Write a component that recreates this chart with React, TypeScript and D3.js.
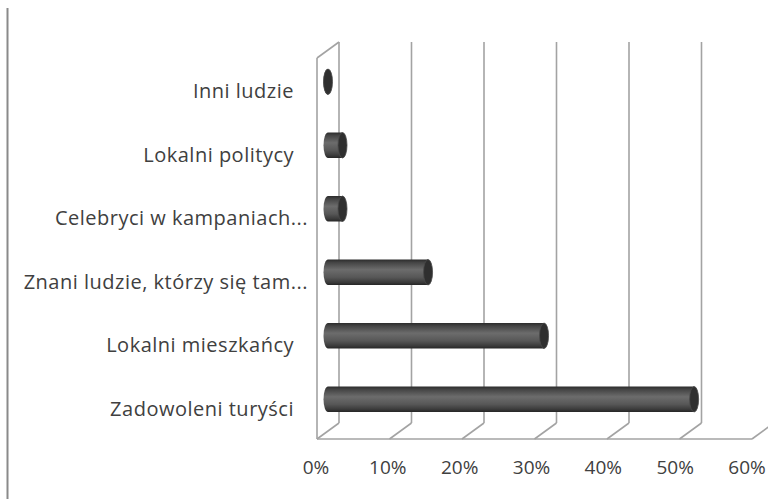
import { useEffect, useRef } from 'react';
import * as d3 from 'd3';

// categories from top to bottom, as they appear on the chart
const categories = [
    'Inni ludzie',
    'Lokalni politycy',
    'Celebryci w kampaniach...',
    'Znani ludzie, którzy się tam...',
    'Lokalni mieszkańcy',
    'Zadowoleni turyści',
];
const values = [0.0, 0.02, 0.02, 0.138, 0.298, 0.505];
const ticks = [0, 0.1, 0.2, 0.3, 0.4, 0.5, 0.6];

const COLORS = {
    grid: '#a3a3a3',
    text: '#404040',
    border: '#8a8a8a',
    cap: '#2f2f2f',
};

const WIDTH = 768;
const HEIGHT = 499;

export default function App() {
    const svgRef = useRef<SVGSVGElement | null>(null);

    useEffect(() => {
        if (!svgRef.current) return;
        const svg = d3.select(svgRef.current);
        svg.selectAll('*').remove();

        // front plane of the 3D box, and the depth offset to the back wall
        const left = 317, right = 752, top = 58, bottom = 439;
        const DX = 22, DY = -16;

        const x = d3.scaleLinear().domain([0, 0.6]).range([left, right]);
        const y = d3.scaleBand<string>().domain(categories).range([top, bottom]);
        // tick labels sit slightly tighter than the floor ticks
        const xLabel = d3.scaleLinear().domain([0, 0.6]).range([left - 1, right - 5]);

        const defs = svg.append('defs');
        const grad = defs.append('linearGradient')
            .attr('id', 'cyl').attr('x1', 0).attr('y1', 0).attr('x2', 0).attr('y2', 1);
        [
            [0, '#2c2c2c'], [0.12, '#454545'], [0.4, '#6c6c6c'],
            [0.7, '#575757'], [0.9, '#3a3a3a'], [1, '#262626'],
        ].forEach(([o, c]) => grad.append('stop').attr('offset', o as number).attr('stop-color', c as string));

        // left border line of the picture
        svg.append('line')
            .attr('x1', 7.5).attr('x2', 7.5).attr('y1', 8).attr('y2', HEIGHT)
            .attr('stroke', COLORS.border).attr('stroke-width', 2);

        const g = svg.append('g').attr('fill', 'none').attr('stroke', COLORS.grid).attr('stroke-width', 1.6);

        // back wall gridlines
        ticks.forEach(t => {
            g.append('line')
                .attr('x1', x(t) + DX).attr('x2', x(t) + DX)
                .attr('y1', top + DY).attr('y2', bottom + DY);
        });

        // floor: front edge + depth diagonals
        g.append('line').attr('x1', x(0)).attr('x2', x(0.6)).attr('y1', bottom).attr('y2', bottom);
        ticks.forEach(t => {
            g.append('line')
                .attr('x1', x(t)).attr('y1', bottom)
                .attr('x2', x(t) + DX).attr('y2', bottom + DY);
        });

        // left wall
        g.append('line').attr('x1', x(0)).attr('x2', x(0)).attr('y1', top).attr('y2', bottom);
        g.append('line').attr('x1', x(0)).attr('y1', top).attr('x2', x(0) + DX).attr('y2', top + DY);

        // cylinders
        const r = y.bandwidth() * 0.2;
        const rx = 4.5;
        categories.forEach((c, i) => {
            const cy = (y(c) as number) + y.bandwidth() / 2 + DY / 2;
            const x0 = x(0) + DX / 2;
            const x1 = x(values[i]) + DX / 2;
            svg.append('path')
                .attr('d', `M${x1},${cy - r} L${x0},${cy - r} A${rx},${r} 0 0 0 ${x0},${cy + r} L${x1},${cy + r} Z`)
                .attr('fill', 'url(#cyl)');
            svg.append('ellipse')
                .attr('cx', x1).attr('cy', cy).attr('rx', rx).attr('ry', r)
                .attr('fill', COLORS.cap)
                .attr('stroke', '#4a4a4a').attr('stroke-width', 0.8);
        });

        // category labels
        const font = '"Open Sans", sans-serif';
        categories.forEach(c => {
            const truncated = c.endsWith('...');
            svg.append('text')
                .attr('x', truncated ? 308 : 294)
                .attr('y', (y(c) as number) + y.bandwidth() / 2 + 3)
                .attr('dominant-baseline', 'middle')
                .attr('text-anchor', 'end')
                .style('font-family', font).style('font-size', '20px')
                .style('letter-spacing', '0.5px')
                .style('fill', COLORS.text)
                .text(c);
        });

        // value axis labels
        ticks.forEach(t => {
            svg.append('text')
                .attr('x', xLabel(t))
                .attr('y', 469)
                .attr('dominant-baseline', 'middle')
                .attr('text-anchor', 'middle')
                .style('font-family', font).style('font-size', '19px')
                .style('fill', COLORS.text)
                .text(d3.format('.0%')(t));
        });
    }, []);

    return (
        <svg ref={svgRef} width={WIDTH} height={HEIGHT}
            style={{ position: 'absolute', left: 0, top: 0, background: '#fff', display: 'block' }} />
    );
}
